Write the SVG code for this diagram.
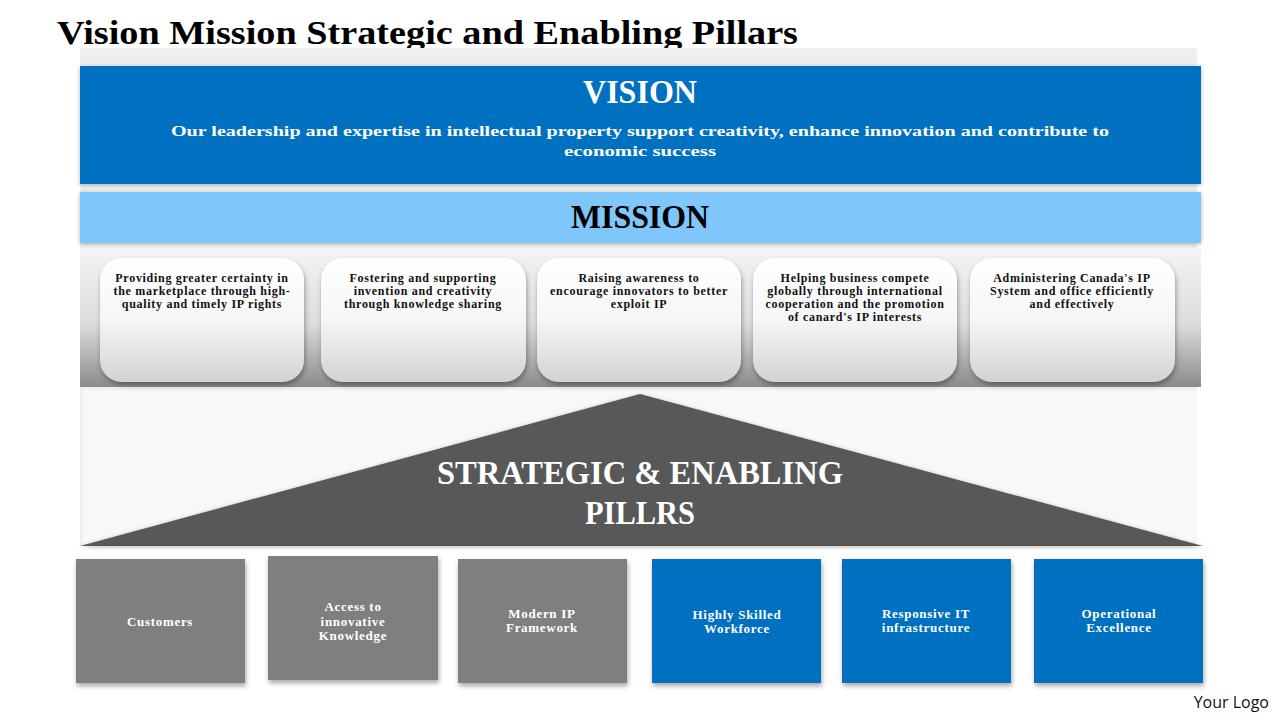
<svg xmlns="http://www.w3.org/2000/svg" width="1280" height="720" viewBox="0 0 1280 720">
<defs>
<linearGradient id="panelG" x1="0" y1="0" x2="0" y2="1">
<stop offset="0" stop-color="#f4f4f4"/><stop offset="0.55" stop-color="#dcdcdc"/><stop offset="1" stop-color="#8a8a8a"/>
</linearGradient>
<linearGradient id="cardG" x1="0" y1="0" x2="0" y2="1">
<stop offset="0" stop-color="#ffffff"/><stop offset="0.5" stop-color="#f6f6f6"/><stop offset="1" stop-color="#d2d2d2"/>
</linearGradient>
<filter id="sh" x="-5%" y="-10%" width="110%" height="125%">
<feDropShadow dx="1" dy="3" stdDeviation="2.5" flood-color="#000" flood-opacity="0.35"/>
</filter>
<filter id="shs" x="-5%" y="-10%" width="110%" height="125%">
<feDropShadow dx="0" dy="1" stdDeviation="2" flood-color="#000" flood-opacity="0.3"/>
</filter>
</defs>
<style>
.head{font-family:"Liberation Serif",serif;font-weight:bold;font-size:34px;fill:#000}
.big{font-family:"Liberation Serif",serif;font-weight:bold;font-size:34px;text-anchor:middle}
.vis{font-family:"Liberation Serif",serif;font-weight:bold;font-size:15.5px;fill:#fff;text-anchor:middle}
.card{font-family:"Liberation Serif",serif;font-weight:bold;font-size:12px;letter-spacing:0.7px;fill:#111;text-anchor:middle}
.pil{font-family:"Liberation Serif",serif;font-weight:bold;font-size:13px;letter-spacing:0.7px;fill:#fff;text-anchor:middle}
.gray{fill:#7f7f7f}
.blue{fill:#0070c0}
</style>
<rect width="1280" height="720" fill="#fff"/>
<text class="head" x="57" y="44" textLength="741" lengthAdjust="spacingAndGlyphs">Vision Mission Strategic and Enabling Pillars</text>
<rect x="80" y="48" width="1117" height="498" fill="#efefef"/>
<rect x="83" y="390" width="1114" height="156" fill="#f8f8f8"/>
<g id="vision">
<rect x="80" y="66" width="1121" height="118" fill="#0070c0" filter="url(#shs)"/>
<text class="big" x="640" y="103" fill="#fff" textLength="114" lengthAdjust="spacingAndGlyphs">VISION</text>
<text class="vis" x="640" y="136" textLength="938" lengthAdjust="spacingAndGlyphs">Our leadership and expertise in intellectual property support creativity, enhance innovation and contribute to</text>
<text class="vis" x="640" y="156" textLength="152" lengthAdjust="spacingAndGlyphs">economic success</text>
</g>
<g id="mission">
<rect x="80" y="192" width="1121" height="51" fill="#7fc6fa" filter="url(#shs)"/>
<text class="big" x="640" y="228" fill="#000" textLength="138" lengthAdjust="spacingAndGlyphs">MISSION</text>
</g>
<g id="mission-panel">
<rect x="80" y="248" width="1121" height="139" fill="url(#panelG)"/>
</g>
<g id="card1">
<rect x="100" y="258" width="204" height="124" rx="22" fill="url(#cardG)" filter="url(#sh)"/>
<text class="card" x="202" y="282">Providing greater certainty in</text>
<text class="card" x="202" y="295">the marketplace through high-</text>
<text class="card" x="202" y="308">quality and timely IP rights</text>
</g>
<g id="card2">
<rect x="321" y="258" width="205" height="124" rx="22" fill="url(#cardG)" filter="url(#sh)"/>
<text class="card" x="423" y="282">Fostering and supporting</text>
<text class="card" x="423" y="295">invention and creativity</text>
<text class="card" x="423" y="308">through knowledge sharing</text>
</g>
<g id="card3">
<rect x="537" y="258" width="204" height="124" rx="22" fill="url(#cardG)" filter="url(#sh)"/>
<text class="card" x="639" y="282">Raising awareness to</text>
<text class="card" x="639" y="295">encourage innovators to better</text>
<text class="card" x="639" y="308">exploit IP</text>
</g>
<g id="card4">
<rect x="753" y="258" width="204" height="124" rx="22" fill="url(#cardG)" filter="url(#sh)"/>
<text class="card" x="855" y="282">Helping business compete</text>
<text class="card" x="855" y="295">globally through international</text>
<text class="card" x="855" y="308">cooperation and the promotion</text>
<text class="card" x="855" y="321">of canard's IP interests</text>
</g>
<g id="card5">
<rect x="970" y="258" width="205" height="124" rx="22" fill="url(#cardG)" filter="url(#sh)"/>
<text class="card" x="1072" y="282">Administering Canada's IP</text>
<text class="card" x="1072" y="295">System and office efficiently</text>
<text class="card" x="1072" y="308">and effectively</text>
</g>
<g id="pillars-triangle">
<polygon points="640,394 80,546 1203,546" fill="#595959" filter="url(#shs)"/>
<text class="big" x="640" y="484" fill="#fff" font-size="38" textLength="406" lengthAdjust="spacingAndGlyphs">STRATEGIC &amp; ENABLING</text>
<text class="big" x="640" y="524" fill="#fff" font-size="38" textLength="110" lengthAdjust="spacingAndGlyphs">PILLRS</text>
</g>
<g id="p1">
<rect class="gray" x="76" y="559" width="169" height="124" filter="url(#sh)"/>
<text class="pil" x="160" y="626">Customers</text>
</g>
<g id="p2">
<rect class="gray" x="268" y="556" width="170" height="124" filter="url(#sh)"/>
<text class="pil" x="353" y="611">Access to</text>
<text class="pil" x="353" y="626">innovative</text>
<text class="pil" x="353" y="640">Knowledge</text>
</g>
<g id="p3">
<rect class="gray" x="458" y="559" width="169" height="124" filter="url(#sh)"/>
<text class="pil" x="542" y="618">Modern IP</text>
<text class="pil" x="542" y="632">Framework</text>
</g>
<g id="p4">
<rect class="blue" x="652" y="559" width="169" height="124" filter="url(#sh)"/>
<text class="pil" x="737" y="619">Highly  Skilled</text>
<text class="pil" x="737" y="633">Workforce</text>
</g>
<g id="p5">
<rect class="blue" x="842" y="559" width="169" height="124" filter="url(#sh)"/>
<text class="pil" x="926" y="618">Responsive IT</text>
<text class="pil" x="926" y="632">infrastructure</text>
</g>
<g id="p6">
<rect class="blue" x="1034" y="559" width="169" height="124" filter="url(#sh)"/>
<text class="pil" x="1119" y="618">Operational</text>
<text class="pil" x="1119" y="632">Excellence</text>
</g>
<g id="connectors"/>
<text x="1269" y="708" text-anchor="end" font-family="'Open Sans','Liberation Sans',sans-serif" font-size="16" fill="#111">Your Logo</text>
</svg>
